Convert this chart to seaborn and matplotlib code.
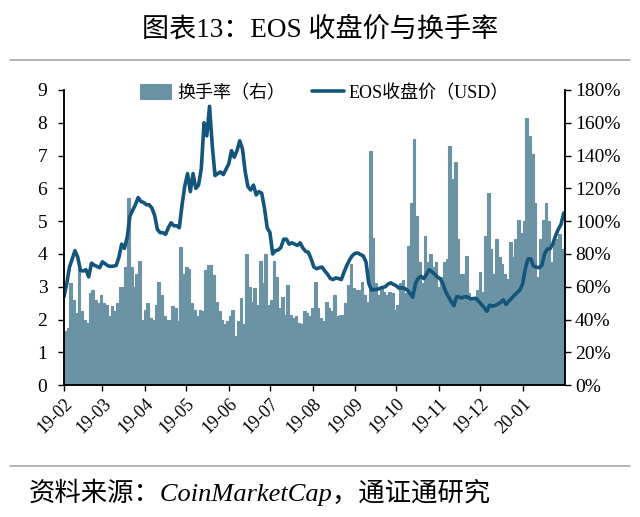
import numpy as np
import pandas as pd
import matplotlib
matplotlib.use('Agg')
import matplotlib.pyplot as plt
import seaborn as sns
from matplotlib.ticker import FuncFormatter

# EOS close price (USD), every 2 days from 2019-02-01
price = [
    2.7, 3.1, 3.6, 3.85, 4.1, 3.9, 3.5, 3.48, 3.52, 3.3,
    3.72, 3.66, 3.62, 3.58, 3.76, 3.7, 3.64, 3.62, 3.63, 3.65,
    3.9, 4.3, 4.17, 4.5, 5.15, 5.33, 5.5, 5.72, 5.6, 5.57,
    5.5, 5.5, 5.4, 5.18, 4.75, 4.65, 4.65, 4.6, 4.8, 4.95,
    4.86, 4.86, 4.8, 5.5, 6.08, 6.45, 5.9, 6.45, 6.0, 6.1,
    6.6, 8.0, 7.6, 8.5, 7.3, 6.39, 6.45, 6.5, 6.42, 6.58,
    6.75, 7.15, 6.95, 7.15, 7.45, 7.2, 6.5, 6.05, 5.95, 6.1,
    5.8, 5.9, 5.85, 5.4, 4.8, 4.65, 4.0, 4.1, 4.12, 4.2,
    4.45, 4.45, 4.3, 4.34, 4.3, 4.26, 4.34, 4.18, 4.08, 4.05,
    3.85, 3.6, 3.55, 3.58, 3.6, 3.48, 3.38, 3.25, 3.22, 3.27,
    3.25, 3.22, 3.45, 3.65, 3.82, 3.95, 4.02, 4.03, 3.98, 3.94,
    3.75, 3.1, 2.9, 2.92, 2.92, 2.95, 2.98, 3.0, 3.08, 3.12,
    3.07, 3.03, 2.96, 2.97, 2.95, 2.9, 2.8, 2.68, 3.1, 3.26,
    3.32, 3.25, 3.38, 3.52, 3.46, 3.38, 3.3, 3.24, 3.1, 2.85,
    2.7, 2.55, 2.42, 2.7, 2.68, 2.66, 2.7, 2.69, 2.63, 2.64,
    2.65, 2.56, 2.46, 2.37, 2.25, 2.44, 2.41, 2.43, 2.47, 2.52,
    2.6, 2.46, 2.56, 2.65, 2.74, 2.82, 2.9, 3.08, 3.55, 3.85,
    3.85, 3.63, 3.6, 3.58, 3.65, 4.0, 4.15, 4.16, 4.3, 4.55,
    4.75, 4.9, 5.25,
]

# turnover rate (%), same dates
turnover = [
    33, 35, 62, 52, 44, 71, 45, 40, 38, 56,
    58, 52, 50, 55, 50, 49, 42, 48, 45, 50,
    60, 60, 72, 114, 72, 60, 68, 76, 40, 46,
    50, 41, 40, 49, 63, 55, 42, 40, 40, 48,
    47, 39, 84, 68, 72, 71, 50, 46, 42, 46,
    45, 70, 73, 73, 67, 51, 45, 40, 37, 39,
    42, 46, 30, 39, 53, 37, 80, 60, 51, 59,
    49, 76, 62, 80, 49, 52, 76, 66, 47, 54,
    43, 61, 43, 41, 42, 38, 37, 45, 44, 42,
    47, 63, 47, 41, 39, 51, 47, 45, 55, 42,
    43, 43, 50, 61, 74, 59, 58, 58, 63, 55,
    51, 143, 90, 62, 55, 59, 57, 55, 57, 56,
    46, 49, 62, 64, 56, 85, 111, 150, 103, 75,
    62, 91, 75, 80, 72, 75, 60, 66, 75, 77,
    146, 126, 136, 89, 68, 68, 79, 56, 52, 52,
    58, 69, 57, 91, 117, 83, 68, 89, 78, 74,
    68, 65, 87, 78, 89, 101, 93, 100, 163, 152,
    141, 111, 66, 89, 101, 111, 100, 75, 87, 89,
    92, 83, 105,
]

legend_labels = ['换手率（右）', 'EOS收盘价（USD）']
title = '图表13：EOS 收盘价与换手率'
source = '资料来源：CoinMarketCap，通证通研究'

dates = pd.date_range('2019-02-01', periods=len(price), freq='2D')
day = (dates - dates[0]).days.to_numpy()
month_starts = pd.date_range('2019-02-01', '2020-01-01', freq='MS')
month_pos = (month_starts - dates[0]).days
month_labels = month_starts.strftime('%y-%m')

df = pd.DataFrame({'day': day, 'bar_day': day + 1, 'price': price, 'turnover': turnover})

sns.set_theme(style='white')
plt.rcParams['font.family'] = ['Liberation Serif', 'Noto Sans CJK SC']
plt.rcParams['text.color'] = 'black'
plt.rcParams['xtick.color'] = 'black'
plt.rcParams['ytick.color'] = 'black'

BAR = '#6b93a4'
LINE = '#14557c'

fig = plt.figure(figsize=(6.4, 5.17), dpi=100)
ax = fig.add_axes([0.1, 0.255, 0.783, 0.571])

sns.barplot(data=df, x='bar_day', y='turnover', native_scale=True, width=1.0,
            color=BAR, saturation=1, linewidth=0.8, edgecolor=BAR, ax=ax, errorbar=None)
ax2 = ax.twinx()
sns.lineplot(data=df, x='day', y='price', color=LINE, linewidth=2.6, ax=ax2, legend=False)

# bars on the right scale, price on the left
ax.yaxis.tick_right()
ax2.yaxis.tick_left()
ax.set_ylim(0, 180)
ax.set_yticks(range(0, 181, 20))
ax.yaxis.set_major_formatter(FuncFormatter(lambda v, _: f'{v:.0f}%'))
ax2.set_ylim(0, 9)
ax2.set_yticks(range(0, 10))

ax.set_xlim(0, 365)
ax.set_xticks(month_pos)
ax.set_xticklabels(month_labels, rotation=45, ha='right', rotation_mode='anchor')

for a in (ax, ax2):
    a.set_xlabel('')
    a.set_ylabel('')
    a.spines['top'].set_visible(False)
    for s in ('left', 'right', 'bottom'):
        a.spines[s].set_color('black')
        a.spines[s].set_linewidth(1.1)

ax.tick_params(axis='x', bottom=True, direction='out', length=4, width=1, labelsize=13, pad=3)
ax.tick_params(axis='y', right=True, left=False, direction='out', length=4, width=1, labelsize=14, pad=3)
ax2.tick_params(axis='y', left=True, right=False, direction='out', length=4, width=1, labelsize=14, pad=8)

ax2.legend([ax.containers[0], ax2.lines[0]], legend_labels, loc='center',
           bbox_to_anchor=(0.52, 0.99), ncol=2, frameon=False, fontsize=13,
           handlelength=1.75, handleheight=0.9, columnspacing=1.5, handletextpad=0.3)

fig.text(0.5, 1 - 30 / 517, title, ha='center', va='center', fontsize=19.5)
fig.add_artist(plt.Line2D([0.015, 0.985], [1 - 60 / 517] * 2, color='#a8a8a8', lw=1.2))
fig.add_artist(plt.Line2D([0.015, 0.985], [1 - 466 / 517] * 2, color='#a8a8a8', lw=1.2))
fig.text(0.045, 1 - 492 / 517, source, ha='left', va='center', fontsize=19, style='italic')

fig.savefig('out.png', dpi=100)
